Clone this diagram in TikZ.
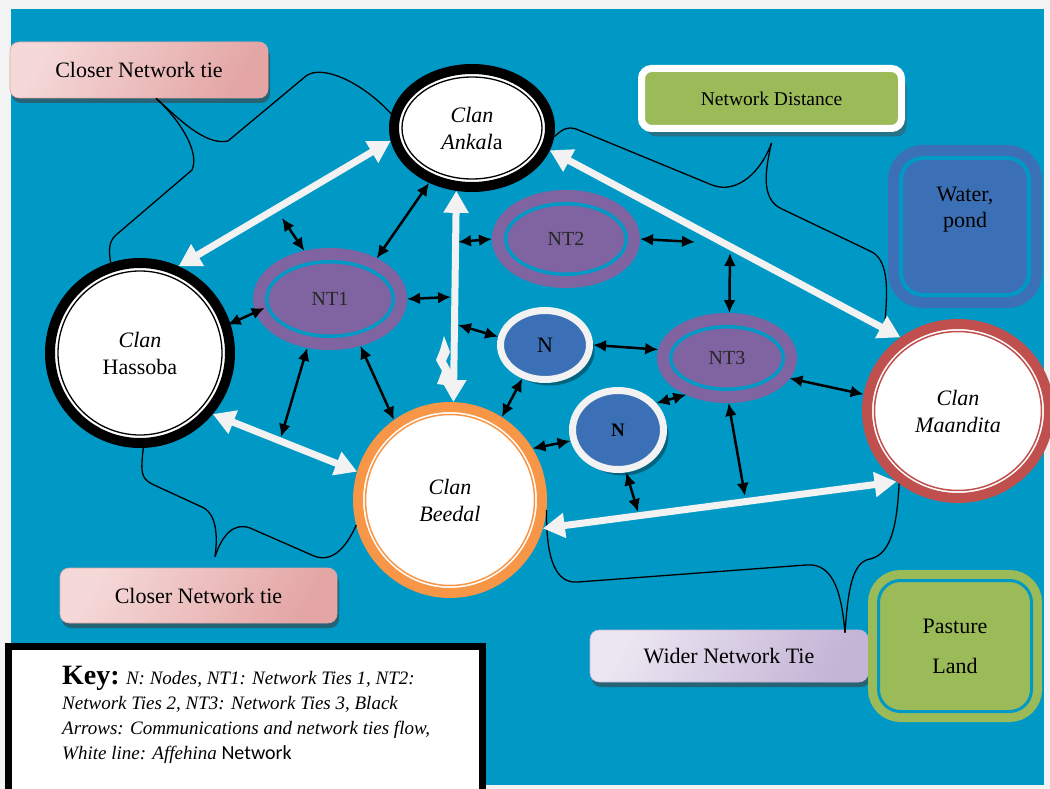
\documentclass[tikz,border=0pt]{standalone}
\usepackage{fontspec}
\setmainfont{Liberation Serif}
\newfontfamily\keysans{Carlito}
\usetikzlibrary{shapes.geometric,arrows.meta,shadows}

\definecolor{pagegray}{HTML}{F3F3F3}
\definecolor{bgblue}{HTML}{0099C6}
\definecolor{ntpurple}{HTML}{8064A2}
\definecolor{nblue}{HTML}{3C70B6}
\definecolor{ndgreen}{HTML}{9BBB59}
\definecolor{ringorange}{HTML}{F79646}
\definecolor{ringred}{HTML}{C0504D}
\definecolor{pinkA}{HTML}{F5D8D8}
\definecolor{pinkB}{HTML}{E3A6A5}
\definecolor{lavA}{HTML}{ECE6F1}
\definecolor{lavB}{HTML}{C4B4D6}
\definecolor{arrowwhite}{HTML}{F2F2F2}

\tikzset{
  clanring/.style={ellipse, fill=white, draw=#1, line width=10pt, inner sep=0pt,
    align=center, font=\fontsize{22}{27}\selectfont},
  ntring/.style={ellipse, fill=ntpurple, draw=ntpurple, line width=12pt,
    double=bgblue, double distance=3.5pt, outer sep=13.75pt, inner sep=0pt,
    text=black!85, font=\fontsize{20}{22}\selectfont},
  nring/.style={ellipse, fill=nblue, draw=arrowwhite, line width=7pt, inner sep=0pt,
    drop shadow={shadow xshift=5pt, shadow yshift=-6pt, fill=black, opacity=.35}},
  tiebox/.style 2 args={rectangle, rounded corners=9pt, left color=#1, right color=#2,
    shading angle=60, draw=#2, line width=.6pt,
    drop shadow={shadow xshift=2pt, shadow yshift=-5pt, fill=black!75, opacity=.6},
    font=\fontsize{22}{26}\selectfont},
  notebox/.style={rectangle, rounded corners=10pt, fill=ndgreen, draw=white, line width=7pt,
    drop shadow={shadow xshift=5pt, shadow yshift=-8pt, fill=black!70, opacity=.5},
    font=\fontsize{19.5}{22}\selectfont},
  landbox/.style={rectangle, rounded corners=22pt, fill=#1, draw=#1, double=bgblue},
  keybox/.style={rectangle, fill=white, draw=black, line width=7pt},
  keytext/.style={align=left, inner sep=0pt, font=\fontsize{19}{25}\selectfont},
  boxtext/.style={align=center, inner sep=0pt, font=\fontsize{22}{26}\selectfont},
  wline/.style={arrowwhite, line width=7pt,
    {Triangle[width=24pt,length=22pt]}-{Triangle[width=24pt,length=22pt]}},
  bline/.style={black, line width=2.5pt,
    {Latex[length=13pt,width=12pt]}-{Latex[length=13pt,width=12pt]}},
  brace/.style={black, line width=1.3pt}
}

\begin{document}
\begin{tikzpicture}[x=1pt,y=-1pt]
\useasboundingbox (0,0) rectangle (1050,789);
\fill[pagegray] (0,0) rectangle (1050,789);
\fill[bgblue] (11,9) rectangle (1044,785);

% key
\node[keybox, minimum width=474pt, minimum height=183.5pt] (keyframe) at (245.5,738.25) {};
\node[keytext, anchor=north west] (key) at (62,666)
  {{\fontsize{28}{30}\selectfont\bfseries Key:} \textit{N: Nodes, NT1: Network Ties 1, NT2:}\\
   \textit{Network Ties 2, NT3: Network Ties 3, Black}\\
   \textit{Arrows: Communications and network ties flow,}\\
   \textit{White line: Affehina} {\keysans\fontsize{20}{25}\selectfont Network}};

% callouts and land
\node[tiebox={pinkA}{pinkB}, minimum width=258pt, minimum height=56pt] (close1) at (139,70) {Closer Network tie};
\node[tiebox={pinkA}{pinkB}, minimum width=277pt, minimum height=55pt] (close2) at (198.5,595.5) {Closer Network tie};
\node[tiebox={lavA}{lavB}, minimum width=278pt, minimum height=52pt] (wider) at (729,656) {Wider Network Tie};
\node[notebox, minimum width=260pt, minimum height=60pt] (ndist) at (771.5,98.5) {Network Distance};
\node[landbox=nblue, line width=11pt, double distance=4pt, minimum width=128pt, minimum height=137pt] (water) at (965,226.5) {};
\node[boxtext] (watertext) at ([yshift=17pt]water.center) {Water,\\pond};
\node[landbox=ndgreen, line width=9pt, double distance=3pt, minimum width=153pt, minimum height=131pt,
  boxtext, font=\fontsize{22}{40}\selectfont] (pasture) at (955,646) {Pasture\\Land};

% clans
\node[clanring=black, minimum width=156pt, minimum height=118pt] (ank) at (472,128) {\textit{Clan}\\\textit{Ankal}a};
\node[clanring=black, minimum size=180pt] (has) at (140,353) {\textit{Clan}\\Hassoba};
\node[clanring=ringorange, minimum width=184pt, minimum height=186pt] (bee) at (450,500) {\textit{Clan}\\\textit{Beedal}};
\node[clanring=ringred, minimum width=182pt, minimum height=174pt] (mdt) at (958,411) {\textit{Clan}\\\textit{Maandita}};
\draw[line width=1.3pt] (ank.center) ellipse [x radius=70, y radius=51];
\draw[line width=1.3pt] (has.center) circle [radius=82];
\draw[ringorange, line width=1.5pt] (bee.center) ellipse [x radius=84.5, y radius=85.5];
\draw[ringred, line width=1.5pt] (mdt.center) ellipse [x radius=83.5, y radius=79.5];

% ties and nodes
\node[ntring, minimum width=126.5pt, minimum height=74.5pt] (nt1) at (330,299) {NT1};
\node[ntring, minimum width=120.5pt, minimum height=70.5pt] (nt2) at (566,239) {NT2};
\node[ntring, minimum width=112.5pt, minimum height=62.5pt] (nt3) at (727,358) {NT3};
\node[nring, minimum width=89pt, minimum height=69pt, font=\fontsize{22}{24}\selectfont] (nup) at (545,345) {N};
\node[nring, minimum width=91pt, minimum height=79pt, font=\fontsize{19}{22}\selectfont\bfseries] (nlo) at (618,430) {N};

% braces
\coordinate (ndtip) at ([yshift=-11pt]ndist.south);
\coordinate (mdtop) at (885,322);
\coordinate (cltip) at ([xshift=16.5pt,yshift=11pt]close2.north);
\coordinate (wtip) at ([xshift=116pt,yshift=-3pt]wider.north);
\draw[brace] ([xshift=17pt]close1.south) .. controls (178,118) and (205,146) .. (228,141)
  -- (306,76) .. controls (322,64) and (362,82) .. (ank.170);
\draw[brace] ([xshift=17pt]close1.south) .. controls (180,120) and (200,152) .. (192,170)
  -- (116,235) .. controls (108,242) and (109,252) .. (has.108);
\draw[brace] (ank.354) .. controls (562,130) and (566,126) .. (576,129)
  -- (712,185) .. controls (738,195) and (762,170) .. (ndtip);
\draw[brace] (ndtip) .. controls (764,175) and (762,200) .. (782,209)
  -- (872,252) .. controls (890,262) and (887,295) .. (mdtop);
\draw[brace] (has.272) .. controls (141,470) and (140,478) .. (152,484)
  -- (204,508) .. controls (216,515) and (218,535) .. (cltip);
\draw[brace] (cltip) .. controls (222,535) and (234,522) .. (250,528)
  -- (314,556) .. controls (332,563) and (346,548) .. (bee.195);
\draw[brace] (bee.354) .. controls (546,560) and (556,584) .. (578,582)
  -- (806,565) .. controls (836,562) and (842,600) .. (wtip);
\draw[brace] (wtip) .. controls (848,590) and (852,562) .. (870,559)
  .. controls (893,554) and (897,520) .. (mdt.231);

% Affehina network
\draw[wline] (ank.189) -- (has.66);
\draw[wline] (ank.256) -- (bee.88);
\draw[wline] (has.320) -- (bee.163);
\draw[wline] (ank.344) -- (mdt.128);
\draw[wline] (bee.343) -- (mdt.229);
\fill[arrowwhite] (444,336) -- (450,352) -- (446,361) -- (452,372) -- (452,386)
  -- (437,384) -- (442,371) -- (436,360) -- (440,350) -- cycle;

% communication flow
\coordinate (ft1) at (282,218);
\coordinate (vl1) at (451,297);
\coordinate (vr1) at (458,242);
\coordinate (vr2) at (458,325);
\coordinate (ft3) at (695,242);
\coordinate (ft2) at (730,253);
\coordinate (ft4) at (281,437);
\coordinate (ft5) at (745,496);
\coordinate (ft6) at (638,512);
\draw[bline] (ft1) -- (nt1.118);
\draw[bline] (ank.232) -- (nt1.41);
\draw[bline, shorten <=-3pt, shorten >=-10pt] (has.18) -- (nt1.190);
\draw[bline] (nt1.east) -- (vl1);
\draw[bline] (vr1) -- (nt2.west);
\draw[bline] (nt2.east) -- (ft3);
\draw[bline] (ft2) -- (nt3.87);
\draw[bline] (vr2) -- (nup.170);
\draw[bline] (nup.east) -- (nt3.173);
\draw[bline] (nt1.245) -- (ft4);
\draw[bline] (nt1.303) -- (bee.125);
\draw[bline] (nup.236) -- (bee.58);
\draw[bline] (bee.32) -- (nlo.193);
\draw[bline] (nlo.35) -- (nt3.222);
\draw[bline] (nt3.342) -- (mdt.170);
\draw[bline] (nt3.272) -- (ft5);
\draw[bline] (nlo.281) -- (ft6);
\end{tikzpicture}
\end{document}
